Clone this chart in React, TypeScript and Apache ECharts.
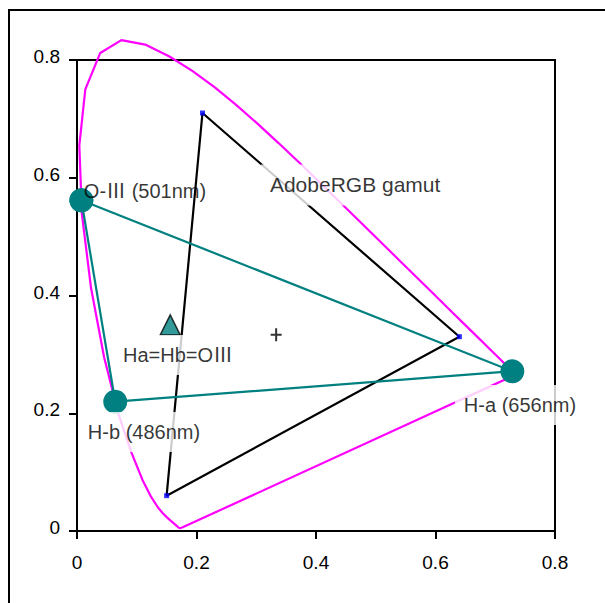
import React, { useEffect, useRef } from "react";
import * as echarts from "echarts";

// CIE 1931 spectral locus (380–700 nm, 5 nm steps), chromaticity x / y
const locusX = [
  0.1741, 0.174, 0.1738, 0.1736, 0.1733, 0.173, 0.1726, 0.1721, 0.1714, 0.1703,
  0.1689, 0.1669, 0.1644, 0.1611, 0.1566, 0.151, 0.144, 0.1355, 0.1241, 0.1096,
  0.0913, 0.0687, 0.0454, 0.0235, 0.0082, 0.0039, 0.0139, 0.0389, 0.0743, 0.1142,
  0.1547, 0.1929, 0.2296, 0.2658, 0.3016, 0.3373, 0.3731, 0.4087, 0.4441, 0.4788,
  0.5125, 0.5448, 0.5752, 0.6029, 0.627, 0.6482, 0.6658, 0.6801, 0.6915, 0.7006,
  0.7079, 0.714, 0.719, 0.723, 0.726, 0.7283, 0.73, 0.7311, 0.732, 0.7327,
  0.7334, 0.734, 0.7344, 0.7346, 0.7347,
];
const locusY = [
  0.005, 0.005, 0.0049, 0.0049, 0.0048, 0.0048, 0.0048, 0.0048, 0.0051, 0.0058,
  0.0069, 0.0086, 0.0109, 0.0138, 0.0177, 0.0227, 0.0297, 0.0399, 0.0578, 0.0868,
  0.1327, 0.2007, 0.295, 0.4127, 0.5384, 0.6548, 0.7502, 0.812, 0.8338, 0.8262,
  0.8059, 0.7816, 0.7543, 0.7243, 0.6923, 0.6589, 0.6245, 0.5896, 0.5547, 0.5202,
  0.4866, 0.4544, 0.4242, 0.3965, 0.3725, 0.3514, 0.334, 0.3197, 0.3083, 0.2993,
  0.292, 0.2859, 0.2809, 0.277, 0.274, 0.2717, 0.27, 0.2689, 0.268, 0.2673,
  0.2666, 0.266, 0.2656, 0.2654, 0.2653,
];

// AdobeRGB primaries (G, R, B)
const gamutNames = ["G", "R", "B"];
const gamutX = [0.21, 0.64, 0.15];
const gamutY = [0.71, 0.33, 0.06];

// Emission lines
const lineNames = ["O-Ⅲ (501nm)", "H-a (656nm)", "H-b (486nm)"];
const lineX = [0.0073, 0.7286, 0.064];
const lineY = [0.5617, 0.2713, 0.2196];

// Ha = Hb = OIII mixture and equal-energy white point
const mixX = [0.156];
const mixY = [0.35];
const whiteX = [0.3333];
const whiteY = [0.3333];

// Annotation texts
const annoTexts = ["AdobeRGB gamut", "O-Ⅲ (501nm)", "Ha=Hb=OⅢ", "H-b (486nm)", "H-a (656nm)"];
const annoX = [0.4655, 0.1138, 0.169, 0.1121, 0.7414];
const annoY = [0.5877, 0.5775, 0.299, 0.1681, 0.214];
const annoBoxed = [true, false, true, true, true];
const annoFont = [21, 20, 20, 20, 20];

const FONT = "'Liberation Sans', Arial, 'Noto Sans CJK JP', sans-serif";

export default function App() {
  const ref = useRef<HTMLDivElement>(null);

  useEffect(() => {
    if (!ref.current) return;
    const chart = echarts.init(ref.current, undefined, { renderer: "svg" });

    const locus = locusX.map((x, i) => [x, locusY[i]]);
    locus.push([locusX[0], locusY[0]]);
    const gamut = gamutX.map((x, i) => [x, gamutY[i]]);
    const gamutClosed = [...gamut, gamut[0]];
    const lines = lineX.map((x, i) => [x, lineY[i]]);
    const linesClosed = [...lines, lines[0]];

    const axisCommon = {
      type: "value" as const,
      min: 0,
      max: 0.8,
      interval: 0.2,
      axisLine: { show: true, onZero: false, lineStyle: { color: "#000", width: 2 } },
      axisTick: { show: true, length: 8, lineStyle: { color: "#000", width: 2 } },
      splitLine: { show: false },
    };

    chart.setOption({
      animation: false,
      backgroundColor: "#fff",
      textStyle: { fontFamily: FONT },
      graphic: [
        {
          type: "rect",
          shape: { x: 9, y: 10, width: 800, height: 800 },
          style: { fill: "none", stroke: "#000", lineWidth: 2 },
          z: -10,
        },
      ],
      grid: {
        left: 77,
        top: 60,
        width: 478,
        height: 471,
        show: true,
        borderColor: "#000",
        borderWidth: 2,
        backgroundColor: "transparent",
      },
      xAxis: {
        ...axisCommon,
        axisLabel: { color: "#000", fontSize: 19, margin: 22, fontFamily: FONT },
      },
      yAxis: {
        ...axisCommon,
        axisLabel: {
          color: "#000",
          fontSize: 19,
          margin: 17,
          fontFamily: FONT,
          verticalAlign: "bottom",
          lineHeight: 7,
        },
      },
      series: [
        {
          name: "locus",
          type: "line",
          data: locus,
          clip: false,
          showSymbol: false,
          symbol: "none",
          lineStyle: { color: "#ff00ff", width: 2.2 },
          z: 2,
        },
        {
          name: "AdobeRGB",
          type: "line",
          data: gamutClosed,
          clip: false,
          symbol: "none",
          lineStyle: { color: "#000", width: 2.2 },
          z: 3,
        },
        {
          name: "AdobeRGB primaries",
          type: "scatter",
          data: gamut,
          symbol: "rect",
          symbolSize: 5,
          itemStyle: { color: "#0000ff" },
          z: 4,
        },
        {
          name: "emission",
          type: "line",
          data: linesClosed,
          clip: false,
          symbol: "circle",
          symbolSize: 24,
          showSymbol: true,
          itemStyle: { color: "#008080" },
          lineStyle: { color: "#008080", width: 2.2 },
          z: 4,
        },
        {
          name: "mix",
          type: "scatter",
          data: mixX.map((x, i) => [x, mixY[i]]),
          symbol: "triangle",
          symbolSize: 20,
          itemStyle: { color: "#008080", borderColor: "#000", borderWidth: 1.5 },
          z: 5,
        },
        {
          name: "white",
          type: "scatter",
          data: whiteX.map((x, i) => [x, whiteY[i]]),
          symbol: "path://M4.5,0H6.5V13H4.5Z M0,5.5H11V7.5H0Z",
          symbolKeepAspect: false,
          symbolSize: [11, 13],
          itemStyle: { color: "#000" },
          z: 5,
        },
        {
          name: "annotations",
          type: "scatter",
          z: 10,
          symbolSize: 1,
          clip: false,
          itemStyle: { color: "rgba(0,0,0,0)" },
          silent: true,
          data: annoTexts.map((t, i) => ({
            value: [annoX[i], annoY[i]],
            label: {
              show: true,
              position: "inside",
              formatter: t,
              color: "#000",
              fontSize: annoFont[i],
              fontFamily: FONT,
              backgroundColor: annoBoxed[i] ? "#fff" : "transparent",
              padding: annoBoxed[i] ? [4, 9, 16, 9] : 0,
            },
          })),
        },
      ],
    });

    return () => chart.dispose();
  }, []);

  return (
    <div
      ref={ref}
      style={{ position: "fixed", left: 0, top: 0, width: 605, height: 603 }}
    />
  );
}
